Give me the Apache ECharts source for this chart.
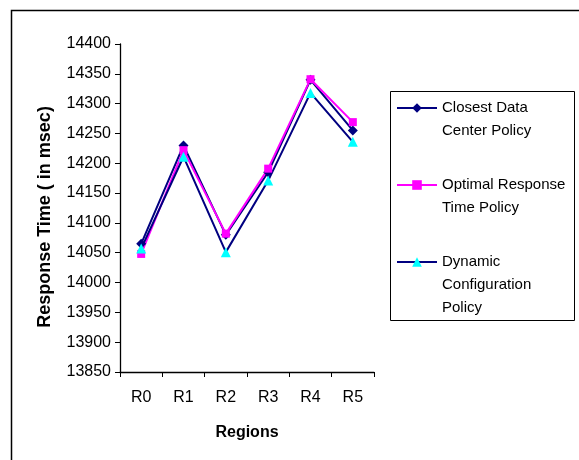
<!DOCTYPE html>
<html>
<head>
<meta charset="utf-8">
<script src="https://cdn.jsdelivr.net/npm/echarts@6/dist/echarts.min.js"></script>
<style>html,body{margin:0;padding:0;background:#fff}#c{width:579px;height:460px}</style>
</head>
<body>
<div id="c"></div>
<script>
const categories = ['R0', 'R1', 'R2', 'R3', 'R4', 'R5'];
const closestData = [14065, 14230, 14080, 14185, 14340, 14255];
const optimalResponse = [14048, 14222, 14082, 14191, 14341, 14269];
const dynamicConfig = [14057, 14211, 14051, 14171, 14318, 14236];
const seriesNames = ['Closest Data\nCenter Policy', 'Optimal Response\nTime Policy', 'Dynamic\nConfiguration\nPolicy'];
const yMin = 13850, yMax = 14400, yStep = 50;

const FONT = 'Liberation Sans, Arial, sans-serif';
const LH = 23;
function legendFor(name, iconY) {
  const n = name.split('\n').length;
  return {
    data: [name], left: 396, top: iconY - (2 * n - 1) * LH / 2, orient: 'vertical', padding: 0,
    itemWidth: 40, itemHeight: 12, itemGap: 0, selectedMode: false,
    formatter: function (s) { return '\n'.repeat(n - 1) + s; },
    textStyle: { fontFamily: FONT, fontSize: 15, color: '#000', lineHeight: LH }
  };
}
const chart = echarts.init(document.getElementById('c'), null, { renderer: 'canvas' });
chart.setOption({
  animation: false,
  backgroundColor: '#fff',
  grid: { left: 120, right: 205, top: 44, bottom: 88 },
  graphic: [
    { type: 'rect', shape: { x: 11.5, y: 10.5, width: 700, height: 600 }, style: { fill: 'none', stroke: '#000', lineWidth: 1.5 }, silent: true },
    { type: 'rect', shape: { x: 390.5, y: 91.5, width: 184, height: 229 }, style: { fill: 'none', stroke: '#000', lineWidth: 1 }, silent: true }
  ],
  legend: [
    legendFor(seriesNames[0], 108),
    legendFor(seriesNames[1], 185),
    legendFor(seriesNames[2], 262)
  ],
  xAxis: {
    type: 'category', data: categories, boundaryGap: true,
    name: 'Regions', nameLocation: 'middle', nameGap: 53,
    nameTextStyle: { fontFamily: FONT, fontSize: 16, fontWeight: 'bold', color: '#000' },
    axisLine: { lineStyle: { color: '#000', width: 1.3 } },
    axisTick: { show: true, inside: false, length: 5, alignWithLabel: false, lineStyle: { color: '#000' } },
    axisLabel: { fontFamily: FONT, fontSize: 16, color: '#000', margin: 18 },
    splitLine: { show: false }
  },
  yAxis: {
    type: 'value', min: yMin, max: yMax, interval: yStep,
    name: 'Response Time ( in msec)', nameLocation: 'middle', nameGap: 66, nameRotate: 90,
    nameTextStyle: { fontFamily: FONT, fontSize: 18, fontWeight: 'bold', color: '#000', padding: [0, 18, 0, 0] },
    axisLine: { show: true, lineStyle: { color: '#000', width: 1.3 } },
    axisTick: { show: true, inside: false, length: 5, lineStyle: { color: '#000' } },
    axisLabel: { fontFamily: FONT, fontSize: 16, color: '#000', margin: 9, formatter: function (v) { return String(v); } },
    splitLine: { show: false }
  },
  series: [
    { name: seriesNames[0], type: 'line', data: closestData, symbol: 'diamond', symbolSize: 10,
      lineStyle: { color: '#000080', width: 2 }, itemStyle: { color: '#000080' } },
    { name: seriesNames[1], type: 'line', data: optimalResponse, symbol: 'rect', symbolSize: 8,
      lineStyle: { color: '#FF00FF', width: 2 }, itemStyle: { color: '#FF00FF' } },
    { name: seriesNames[2], type: 'line', data: dynamicConfig, symbol: 'triangle', symbolSize: 10,
      lineStyle: { color: '#000080', width: 2 }, itemStyle: { color: '#00FFFF' } }
  ]
});
</script>
</body>
</html>
